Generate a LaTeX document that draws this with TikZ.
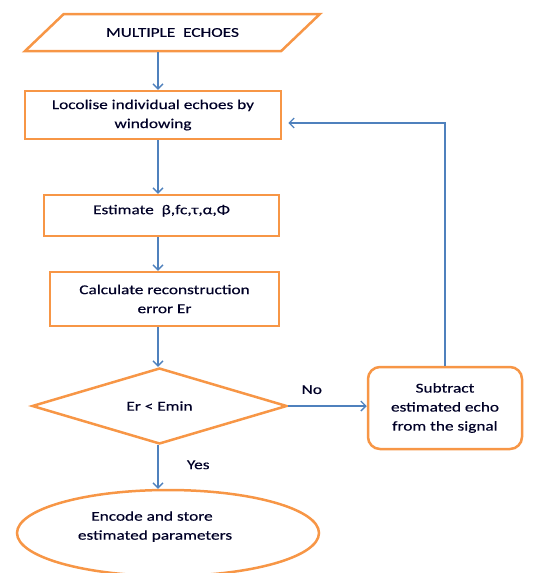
\documentclass[tikz,border=0pt]{standalone}
\usepackage{fontspec}
\setmainfont{Carlito}[FakeStretch=1.28,FakeBold=0.4]
\usetikzlibrary{shapes.geometric,arrows.meta}
\definecolor{boxorange}{RGB}{247,150,70}
\definecolor{flowblue}{RGB}{79,129,189}

\begin{document}
\begin{tikzpicture}[x=1pt,y=-1pt]
    \tikzset{%
        every node/.style={font=\fontsize{13.5}{19}\selectfont, text=black!85!blue},
        stepbox/.style={draw=boxorange, line width=2.5pt, rectangle, align=center},
        flow/.style={draw=flowblue, line width=1.3pt, -{Straight Barb[length=5pt,width=10pt]}},
    }%
    \useasboundingbox (0,0) rectangle (547,573);
    \coordinate (axis) at (158,0);
    % input and processing steps
    \node[draw=boxorange, line width=2.5pt, trapezium, trapezium left angle=32, trapezium right angle=148,
          trapezium stretches=true, minimum width=295pt, minimum height=37pt] (echoes) at (172.5,32.5) {MULTIPLE\ \ ECHOES};
    \node[stepbox, minimum width=256pt, minimum height=48pt] (locate) at (153,115)
        {Locolise\ individual\ echoes\ by\\windowing};
    \node[stepbox, minimum width=235pt, minimum height=41pt] (estimate) at (161.5,215.5)
        {Estimate\ \ β,fc,τ,α,Φ\\[-7pt]\mbox{}};
    \node[stepbox, minimum width=229pt, minimum height=54pt] (calc) at (164.5,299)
        {Calculate\ reconstruction\\error Er};
    \node[draw=boxorange, line width=2.5pt, diamond, minimum width=255pt, minimum height=76pt, inner sep=0pt] (check) at (159.5,406)
        {Er < Emin};
    \node[stepbox, rounded corners=12pt, minimum width=154pt, minimum height=82pt] (subtract) at (445,408)
        {Subtract\\estimated\ echo\\from the signal};
    \node[draw=boxorange, line width=2.5pt, ellipse, minimum width=302pt, minimum height=86pt, align=center] (store) at (168,533)
        {Encode\ and\ store\hspace*{32pt}\mbox{}\\estimated\ parameters\hspace*{26pt}\mbox{}\\[-4pt]\mbox{}};
    % connectors
    \draw[flow] (axis |- echoes.south) -- (axis |- locate.north);
    \draw[flow] (axis |- locate.south) -- (axis |- estimate.north);
    \draw[flow] (axis |- estimate.south) -- (axis |- calc.north);
    \draw[flow] (axis |- calc.south) -- (axis |- check.north);
    \draw[flow] (check.east) -- (check.east -| subtract.west) node[pos=0.3, above=8pt] (no) {No};
    \draw[flow] (axis |- check.south) -- (axis |- store.north) node[pos=0.45, right=25pt] (yes) {Yes};
    \draw[flow, shorten >=6pt] (subtract.north) |- ([yshift=-8pt]locate.east);
\end{tikzpicture}
\end{document}
